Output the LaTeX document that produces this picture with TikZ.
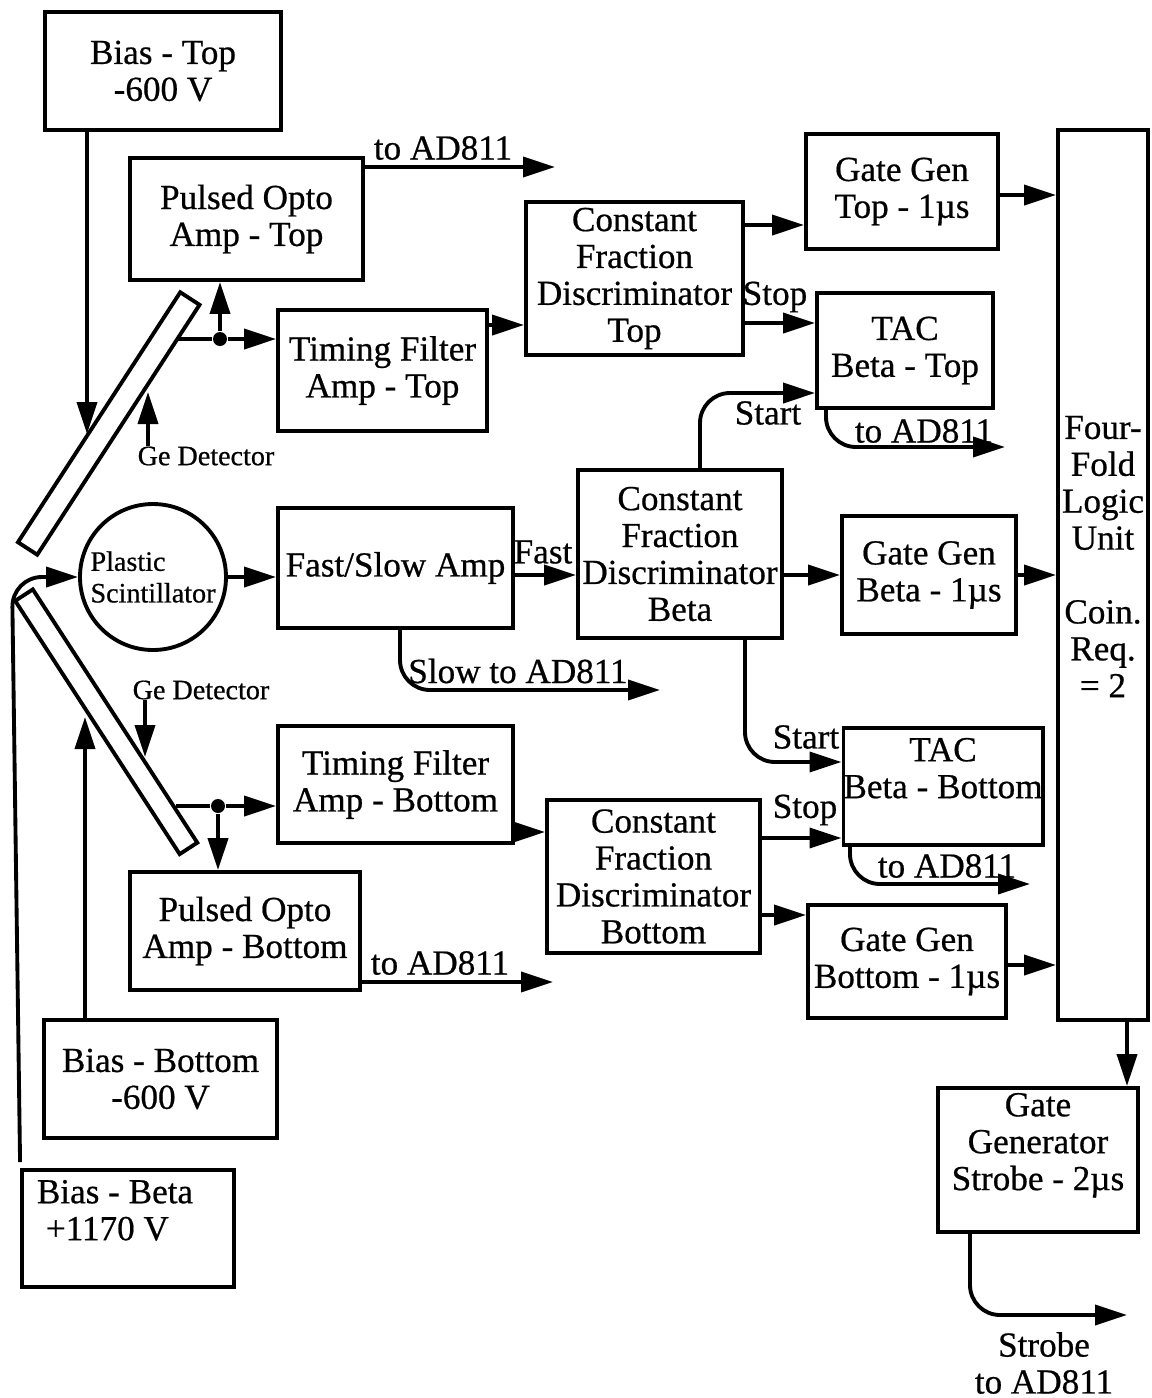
\documentclass[tikz,border=0pt]{standalone}
\usepackage{fontspec}
\setmainfont{Liberation Serif}[FakeBold=0.6]
\usetikzlibrary{arrows.meta, calc}

\begin{document}
\begin{tikzpicture}[x=0.1mm, y=-0.1mm,
    box/.style={draw, line width=1.1pt, align=center, inner sep=0pt, font=\fontsize{10}{10.5}\selectfont},
    det/.style={draw, line width=1.1pt, inner sep=0pt},
    lbl/.style={inner sep=0pt, align=center, font=\fontsize{10}{10.5}\selectfont},
    small/.style={inner sep=0pt, align=left, font=\fontsize{8}{9}\selectfont},
    dot/.style={circle, fill, inner sep=0pt, minimum size=1.4mm},
    wire/.style={line width=1.1pt},
    sig/.style={line width=1.1pt, -{Triangle[length=3.2mm, width=2mm]}}]

	\useasboundingbox (0,0) rectangle (1152,1398);

	% Bias supplies
	\node (BiasT) at (163,71) [box, minimum width=23.6mm, minimum height=11.8mm] {Bias - Top\\-600 V};
	\node (BiasB) at (160.5,1079) [box, minimum width=23.3mm, minimum height=11.8mm] {Bias - Bottom\\-600 V};
	\node (BiasBe) at (128,1228.5) [box, align=left, minimum width=21.2mm, minimum height=11.7mm] {Bias - Beta\hspace*{2.6mm}\\\hspace*{0.9mm}+1170 V\\\mbox{}};

	% Detectors
	\node (GeT) at (108.75,423.5) [det, minimum width=29.8mm, minimum height=2.3mm, rotate=57] {};
	\node (GeB) at (106.25,721.75) [det, minimum width=30.2mm, minimum height=2.1mm, rotate=-57] {};
	\node (Circ) at (153,577) [circle, draw, line width=1.1pt, minimum size=14.6mm, small] {Plastic\\Scintillator};
	\node (GeTlab) at (206,456) [small] {Ge Detector};
	\node (GeBlab) at (201,690) [small] {Ge Detector};

	% Top branch
	\node (PoT) at (246.5,219) [box, minimum width=23.3mm, minimum height=12.2mm] {Pulsed Opto\\Amp - Top};
	\node (TfT) at (382.5,370.5) [box, minimum width=20.9mm, minimum height=12.1mm] {Timing Filter\\Amp - Top};
	\node (CfT) at (634.5,278.5) [box, minimum width=21.7mm, minimum height=15.3mm] {Constant\\Fraction\\Discriminator\\Top};
	\node (GgT) at (902,191.5) [box, minimum width=19.2mm, minimum height=11.5mm] {Gate Gen\\Top - 1µs};
	\node (TacT) at (905,350.5) [box, minimum width=17.6mm, minimum height=11.5mm] {TAC\\Beta - Top};

	% Beta branch
	\node (FsA) at (395.5,568) [box, minimum width=23.5mm, minimum height=12mm] {Fast/Slow Amp};
	\node (CfB) at (680,554) [box, minimum width=20.4mm, minimum height=16.8mm] {Constant\\Fraction\\Discriminator\\Beta};
	\node (GgB) at (929,575) [box, minimum width=17.4mm, minimum height=11.8mm] {Gate Gen\\Beta - 1µs};

	% Bottom branch
	\node (TfB) at (395.5,784.5) [box, minimum width=23.5mm, minimum height=11.7mm] {Timing Filter\\Amp - Bottom};
	\node (PoB) at (245,931) [box, minimum width=23mm, minimum height=11.8mm] {Pulsed Opto\\Amp - Bottom};
	\node (CfBo) at (653.5,876.5) [box, minimum width=21.3mm, minimum height=15.3mm] {Constant\\Fraction\\Discriminator\\Bottom};
	\node (TacB) at (943,786.5) [box, minimum width=19.6mm, minimum height=11.7mm] {TAC\\Beta - Bottom\\\mbox{}};
	\node (GgBo) at (907,961.5) [box, minimum width=19.8mm, minimum height=11.3mm] {Gate Gen\\Bottom - 1µs};

	% Logic and strobe
	\node (FFL) at (1103,575) [box, minimum width=9mm, minimum height=89mm] {Four-\\Fold\\Logic\\Unit\\[10.5pt]Coin.\\Req.\\= 2\\\mbox{}};
	\node (GgS) at (1038,1160) [box, minimum width=20mm, minimum height=14.4mm] {Gate\\Generator\\Strobe - 2µs\\\mbox{}};

	% Junctions and free ends
	\node (jT) at (220,339) [dot] {};
	\node (jB) at (218,806) [dot] {};
	\coordinate (GeTout) at (178,339);
	\coordinate (GeBout) at (176,806);
	\coordinate (GeTin) at (87,434);
	\coordinate (GeBin) at (85,717);
	\coordinate (GeTtip) at (148,392);
	\coordinate (GeBtip) at (145,757);
	\coordinate (outPoT) at (555,167);
	\coordinate (outPoB) at (553,982);
	\coordinate (outTacT) at (1005,447);
	\coordinate (outTacB) at (1030,884);
	\coordinate (outSlow) at (660,690);
	\coordinate (outStrobe) at (1127,1315);

	% Labels
	\node (lPoT) at (443,148) [lbl] {to AD811};
	\node (lPoB) at (440,963) [lbl] {to AD811};
	\node (lTacT) at (924,431) [lbl] {to AD811};
	\node (lTacB) at (947,866) [lbl] {to AD811};
	\node (lSlow) at (518,671) [lbl] {Slow to AD811};
	\node (lStrobe) at (1044,1363) [lbl] {Strobe\\to AD811};
	\node (lFast) at (543,552) [lbl] {Fast};
	\node (lStopT) at (775,297) [lbl] {Stop};
	\node (lStartT) at (768,413) [lbl] {Start};
	\node (lStartB) at (806,737) [lbl] {Start};
	\node (lStopB) at (805,810) [lbl] {Stop};

	% Bias lines
	\draw[sig] (BiasT.south -| GeTin) -- (GeTin);
	\draw[sig] (BiasB.north -| GeBin) -- (GeBin);
	\draw[sig, rounded corners=3mm] ([yshift=0.6mm]BiasBe.north west) -- (12,577) -- (Circ.west);
	\draw[sig] (GeTlab.north -| GeTtip) -- (GeTtip);
	\draw[sig] (GeBlab.south -| GeBtip) -- (GeBtip);

	% Top signals
	\draw[wire] (GeTout) -- (jT);
	\draw[sig] (jT) -- (jT -| TfT.west);
	\draw[sig] (jT) -- (jT |- PoT.south);
	\draw[sig] (PoT.east |- outPoT) -- (outPoT);
	\draw[sig] (TfT.east |- 0,325) -- (CfT.west |- 0,325);
	\draw[sig] (CfT.east |- 0,225) -- (GgT.west |- 0,225);
	\draw[sig] (CfT.east |- 0,323) -- (TacT.west |- 0,323);
	\draw[sig] (GgT.east |- 0,195) -- (FFL.west |- 0,195);
	\draw[sig, rounded corners=3mm] (TacT.south -| 826,0) |- (outTacT);

	% Beta signals
	\draw[sig] (Circ.east) -- (FsA.west |- Circ.east);
	\draw[sig] (FsA.east |- 0,575) -- (CfB.west |- 0,575);
	\draw[sig] (CfB.east |- 0,575) -- (GgB.west |- 0,575);
	\draw[sig] (GgB.east |- 0,575) -- (FFL.west |- 0,575);
	\draw[sig, rounded corners=3mm] (FsA.south -| 400,0) |- (outSlow);
	\draw[sig, rounded corners=3mm] (CfB.north -| 700,0) |- (TacT.west |- 0,393);
	\draw[sig, rounded corners=3mm] (CfB.south -| 745,0) |- (TacB.west |- 0,762);

	% Bottom signals
	\draw[wire] (GeBout) -- (jB);
	\draw[sig] (jB) -- (jB -| TfB.west);
	\draw[sig] (jB) -- (jB |- PoB.north);
	\draw[sig] (PoB.east |- outPoB) -- (outPoB);
	\draw[sig] (TfB.east |- 0,832) -- (CfBo.west |- 0,832);
	\draw[sig] (CfBo.east |- 0,838) -- (TacB.west |- 0,838);
	\draw[sig] (CfBo.east |- 0,915) -- (GgBo.west |- 0,915);
	\draw[sig] (GgBo.east |- 0,965) -- (FFL.west |- 0,965);
	\draw[sig, rounded corners=3mm] (TacB.south -| 850,0) |- (outTacB);

	% Strobe
	\draw[sig] (FFL.south -| 1127,0) -- (GgS.north -| 1127,0);
	\draw[sig, rounded corners=3mm] (GgS.south -| 970,0) |- (outStrobe);
\end{tikzpicture}
\end{document}
